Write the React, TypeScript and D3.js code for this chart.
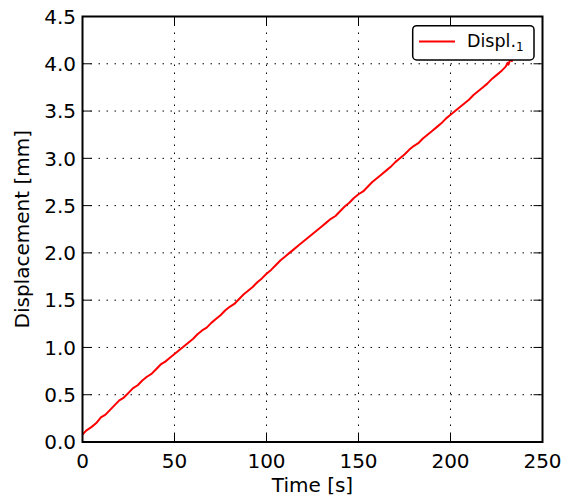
import React from "react";
import * as d3 from "d3";

const times = [0, 2, 5, 7.5, 10, 12.5, 15, 17.5, 20, 22.5, 25, 27.5, 30, 32.5, 35, 37.5, 40, 42.5, 45, 47.5, 50, 52.5, 55, 57.5, 60, 62.5, 65, 67.5, 70, 72.5, 75, 77.5, 80, 82.5, 85, 87.5, 90, 92.5, 95, 97.5, 100, 102.5, 105, 107.5, 110, 112.5, 115, 117.5, 120, 122.5, 125, 127.5, 130, 132.5, 135, 137.5, 140, 142.5, 145, 147.5, 150, 152.5, 155, 157.5, 160, 162.5, 165, 167.5, 170, 172.5, 175, 177.5, 180, 182.5, 185, 187.5, 190, 192.5, 195, 197.5, 200, 202.5, 205, 207.5, 210, 212.5, 215, 217.5, 220, 222.5, 225, 228, 230, 231, 231.5, 232, 233, 233.5];
const displ = [0.08, 0.12, 0.16, 0.2, 0.26, 0.29, 0.34, 0.39, 0.44, 0.47, 0.52, 0.57, 0.6, 0.65, 0.69, 0.72, 0.77, 0.82, 0.85, 0.89, 0.93, 0.97, 1.01, 1.05, 1.09, 1.14, 1.18, 1.21, 1.26, 1.3, 1.34, 1.39, 1.43, 1.46, 1.51, 1.56, 1.6, 1.64, 1.69, 1.73, 1.78, 1.82, 1.87, 1.92, 1.96, 2.0, 2.04, 2.08, 2.12, 2.16, 2.2, 2.24, 2.28, 2.32, 2.36, 2.39, 2.44, 2.49, 2.53, 2.58, 2.62, 2.65, 2.7, 2.75, 2.79, 2.83, 2.87, 2.91, 2.96, 3.0, 3.04, 3.09, 3.13, 3.16, 3.21, 3.25, 3.29, 3.33, 3.37, 3.42, 3.46, 3.5, 3.54, 3.58, 3.62, 3.67, 3.71, 3.75, 3.79, 3.84, 3.88, 3.93, 3.97, 4.01, 3.99, 4.02, 4.06, 4.02];
const xTicks = [0, 50, 100, 150, 200, 250];
const yTicks = [0, 0.5, 1, 1.5, 2, 2.5, 3, 3.5, 4, 4.5];
const seriesName = "Displ.";
const seriesSub = "1";
const xLabel = "Time [s]";
const yLabel = "Displacement [mm]";

const W = 578, H = 500;
const L = 82.5, R = 542.5, T = 16.5, B = 442;
const FONT = "DejaVu Sans, sans-serif";
const FS = 20;

export default function App() {
  const x = d3.scaleLinear().domain([0, 250]).range([L, R]);
  const y = d3.scaleLinear().domain([0, 4.5]).range([B, T]);
  const line = d3.line<number>().x((_, i) => x(times[i])).y((d) => y(d));
  const tl = 9;
  return (
    <svg width={W} height={H} style={{ position: "absolute", left: 0, top: 0, background: "#fff" }}>
      <rect x={0} y={0} width={W} height={H} fill="#fff" />
      {/* grid */}
      {xTicks.slice(1, -1).map((t) => (
        <line key={"gx" + t} x1={x(t)} x2={x(t)} y1={B} y2={T} stroke="#000" strokeWidth={1} strokeDasharray="1.5 6.5" />
      ))}
      {yTicks.slice(1, -1).map((t) => (
        <line key={"gy" + t} x1={L} x2={R} y1={y(t)} y2={y(t)} stroke="#000" strokeWidth={1} strokeDasharray="1.5 6.5" />
      ))}
      {/* data line */}
      <path d={line(displ) || ""} fill="none" stroke="#ff0000" strokeWidth={2} strokeLinejoin="round" />
      {/* ticks */}
      {xTicks.map((t) => (
        <g key={"tx" + t}>
          <line x1={x(t)} x2={x(t)} y1={B} y2={B - tl} stroke="#000" strokeWidth={1} />
          <line x1={x(t)} x2={x(t)} y1={T} y2={T + tl} stroke="#000" strokeWidth={1} />
          <text x={x(t)} y={467.5} textAnchor="middle" fontFamily={FONT} fontSize={FS}>{String(t)}</text>
        </g>
      ))}
      {yTicks.map((t) => (
        <g key={"ty" + t}>
          <line x1={L} x2={L + tl} y1={y(t)} y2={y(t)} stroke="#000" strokeWidth={1} />
          <line x1={R} x2={R - tl} y1={y(t)} y2={y(t)} stroke="#000" strokeWidth={1} />
          <text x={76} y={y(t)} dy="0.36em" textAnchor="end" fontFamily={FONT} fontSize={FS}>{t.toFixed(1)}</text>
        </g>
      ))}
      {/* spines */}
      <rect x={L} y={T} width={R - L} height={B - T} fill="none" stroke="#000" strokeWidth={2} />
      {/* axis labels */}
      <text x={(L + R) / 2} y={492} textAnchor="middle" fontFamily={FONT} fontSize={FS}>{xLabel}</text>
      <text transform={`translate(29,${(T + B) / 2}) rotate(-90)`} textAnchor="middle" fontFamily={FONT} fontSize={FS}>{yLabel}</text>
      {/* legend */}
      <rect x={412.7} y={25.7} width={121.3} height={34.3} rx={4} fill="#fff" stroke="#000" strokeWidth={1.5} />
      <line x1={419} x2={455} y1={41.5} y2={41.5} stroke="#ff0000" strokeWidth={2} />
      <text x={467} y={47} fontFamily={FONT} fontSize={17.5}>
        {seriesName}
        <tspan fontSize={12} dy={4}>{seriesSub}</tspan>
      </text>
    </svg>
  );
}
